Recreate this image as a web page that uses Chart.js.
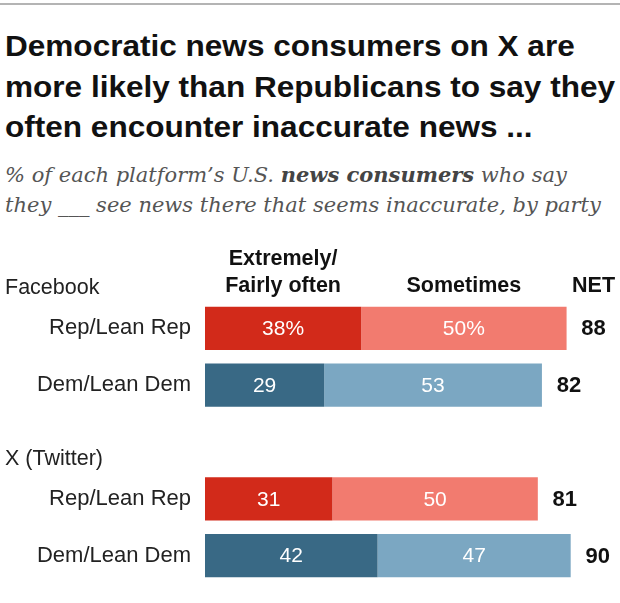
<!DOCTYPE html>
<html>
<head>
<meta charset="utf-8">
<script src="https://cdn.jsdelivr.net/npm/chart.js@4"></script>
<style>
  body { margin: 0; background: #fff; }
  #page { position: relative; width: 620px; height: 603px; overflow: hidden; }
  #rule { position: absolute; left: 0; top: 3px; width: 620px; height: 2px; background: #b4b4b4; }
  #title {
    position: absolute; left: 5px; top: 26px; margin: 0;
    font-family: "Liberation Sans", Arial, sans-serif;
    font-weight: bold; font-size: 30px; line-height: 40.5px; color: #111;
  }
  #title span { display: block; white-space: nowrap; transform-origin: 0 50%; }
  #subtitle {
    position: absolute; left: 5px; top: 160px; margin: 0;
    font-family: "DejaVu Serif", serif; font-style: italic;
    font-size: 21px; line-height: 30px; color: #555; white-space: nowrap;
  }
  #subtitle b { color: #444; }
  #chart { position: absolute; left: 0; top: 240px; }
</style>
</head>
<body>
<div id="page">
  <div id="rule"></div>
  <h1 id="title"><span>Democratic news consumers on X are</span><span>more likely than Republicans to say they</span><span>often encounter inaccurate news ...</span></h1>
  <p id="subtitle">% of each platform’s U.S. <b>news consumers</b> who say<br>they ___ see news there that seems inaccurate, by party</p>
  <canvas id="chart" width="620" height="363"></canvas>
</div>
<script>
// rows (blank row separates the two platforms)
var rowLabels = ['Rep/Lean Rep', 'Dem/Lean Dem', '', 'Rep/Lean Rep', 'Dem/Lean Dem'];
var groupLabels = ['Facebook', null, null, 'X (Twitter)', null];
var partyOf = ['rep', 'dem', null, 'rep', 'dem'];

var often = [38, 29, null, 31, 42];
var sometimes = [50, 53, null, 50, 47];
var net = [88, 82, null, 81, 90];

var headerOften = ['Extremely/', 'Fairly often'];
var headerSometimes = 'Sometimes';
var headerNet = 'NET';

var colors = {
    rep: ['#d22a1a', '#f27b6f'],
    dem: ['#396985', '#7ba7c2']
};

var FONT = '"Liberation Sans", Arial, sans-serif';

// squeeze the title so the longest line spans the width, like the condensed original
(function fitTitle() {
    let spans = document.querySelectorAll('#title span');
    let w = spans[1].getBoundingClientRect().width;
    let k = 610 / w;
    spans.forEach(s => { s.style.transform = 'scaleX(' + k + ')'; });
})();

function barColors(i) {
    return partyOf.map(p => p ? colors[p][i] : '#fff');
}

var labelsPlugin = {
    id: 'labels',
    afterDatasetsDraw(chart) {
        let ctx = chart.ctx;
        let m0 = chart.getDatasetMeta(0).data;
        let m1 = chart.getDatasetMeta(1).data;
        ctx.save();

        // values inside the bars
        ctx.font = '21px ' + FONT;
        ctx.fillStyle = '#fff';
        ctx.textAlign = 'center';
        ctx.textBaseline = 'middle';
        for (let i = 0; i < rowLabels.length; i++) {
            if (often[i] == null) continue;
            let suffix = i === 0 ? '%' : '';
            let a = m0[i], b = m1[i];
            ctx.fillText(often[i] + suffix, (a.x + a.base) / 2, a.y + 1);
            ctx.fillText(sometimes[i] + suffix, (b.x + b.base) / 2, b.y + 1);
        }

        // NET
        ctx.font = 'bold 22px ' + FONT;
        ctx.fillStyle = '#111';
        for (let i = 0; i < rowLabels.length; i++) {
            if (net[i] == null) continue;
            ctx.fillText(net[i], m1[i].x + 27, m1[i].y + 1);
        }

        // group labels
        ctx.font = '21.5px ' + FONT;
        ctx.fillStyle = '#222';
        ctx.textAlign = 'left';
        ctx.textBaseline = 'alphabetic';
        for (let i = 0; i < groupLabels.length; i++) {
            if (!groupLabels[i]) continue;
            ctx.fillText(groupLabels[i], 5, m0[i].y - 34);
        }

        // column headers over the first row
        ctx.font = 'bold 21.5px ' + FONT;
        ctx.fillStyle = '#111';
        ctx.textAlign = 'center';
        let a = m0[0], b = m1[0];
        let yb = a.y - 36;
        ctx.fillText(headerOften[0], (a.x + a.base) / 2, yb - 27);
        ctx.fillText(headerOften[1], (a.x + a.base) / 2, yb);
        ctx.fillText(headerSometimes, (b.x + b.base) / 2, yb);
        ctx.fillText(headerNet, b.x + 27, yb);

        ctx.restore();
    }
};

new Chart(document.getElementById('chart').getContext('2d'), {
    type: 'bar',
    data: {
        labels: rowLabels,
        datasets: [
            {
                label: headerOften.join(' '),
                data: often,
                backgroundColor: barColors(0),
                categoryPercentage: 0.76,
                barPercentage: 1,
            },
            {
                label: headerSometimes,
                data: sometimes,
                backgroundColor: barColors(1),
                categoryPercentage: 0.76,
                barPercentage: 1,
            }
        ]
    },
    options: {
        indexAxis: 'y',
        responsive: false,
        animation: false,
        layout: { padding: { top: 60, bottom: 19, left: 0, right: 0 } },
        plugins: {
            legend: { display: false },
            tooltip: { enabled: false }
        },
        scales: {
            x: { stacked: true, min: 0, max: 101, display: false },
            y: {
                stacked: true,
                afterFit: (s) => {
                    s.width = 205;
                    s.paddingTop = 0;
                    s.paddingBottom = 0;
                },
                grid: { display: false, drawTicks: false },
                border: { display: false },
                ticks: {
                    padding: 14,
                    color: '#222',
                    font: { family: FONT, size: 22 }
                }
            }
        }
    },
    plugins: [labelsPlugin]
});
</script>
</body>
</html>
